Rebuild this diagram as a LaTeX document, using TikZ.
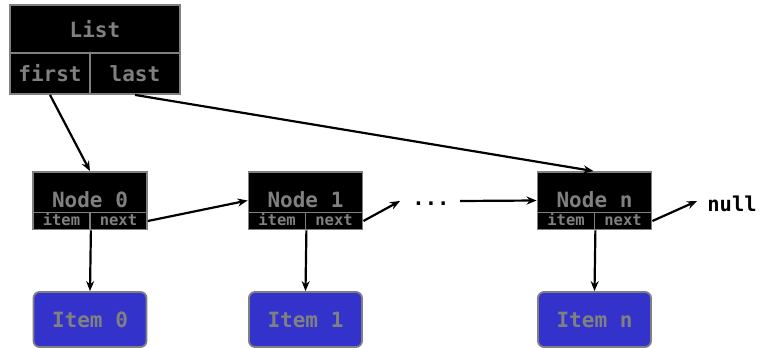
\documentclass[tikz,border=0pt]{standalone}
\usepackage{fontspec}
\newfontfamily\monof{DejaVu Sans Mono}
\usetikzlibrary{arrows.meta}
\definecolor{boxgray}{HTML}{808080}
\definecolor{itemblue}{HTML}{3333CC}
\tikzset{
  box/.style={draw=boxgray, line width=1.8pt, fill=black, text=boxgray, inner sep=0pt, font=\monof\bfseries},
  bigtxt/.style={font=\monof\bfseries\fontsize{21}{22}\selectfont},
  smalltxt/.style={font=\monof\bfseries\fontsize{15.5}{15}\selectfont},
  itembox/.style={draw=boxgray, line width=1.8pt, fill=itemblue, text=boxgray, rounded corners=6pt, inner sep=0pt, minimum width=113pt, minimum height=55pt, font=\monof\bfseries\fontsize{21}{22}\selectfont},
  arr/.style={line width=2.2pt, -{Stealth[length=10pt,width=8pt]}},
  plain/.style={font=\monof\bfseries\fontsize{20.5}{21}\selectfont, text=black, inner sep=0pt}
}
\begin{document}
\begin{tikzpicture}[x=1pt,y=-1pt]
\useasboundingbox (0,0) rectangle (764,348);
% List
\node[box, bigtxt, minimum width=170pt, minimum height=48pt] (listhead) at (95,29) {List};
\node[box, bigtxt, minimum width=80pt, minimum height=41pt] (first) at (50,73.5) {first};
\node[box, bigtxt, minimum width=90pt, minimum height=41pt] (last) at (135,73.5) {last};
% Node boxes
\foreach \n/\x/\lab in {n0/90/Node 0, n1/305.5/Node 1, nn/594.5/Node n}{
  \node[box, bigtxt, minimum width=114pt, minimum height=41pt, text height=35pt, text depth=6pt] (\n) at (\x,192.5) {\lab};
  \node[box, smalltxt, minimum width=57pt, minimum height=17pt, text height=13pt, text depth=4pt] (\n item) at (\x-28.5,221) {item};
  \node[box, smalltxt, minimum width=57pt, minimum height=17pt, text height=13pt, text depth=4pt] (\n next) at (\x+28.5,221) {next};
}
% Items
\node[itembox] (i0) at (90,319.5) {Item 0};
\node[itembox] (i1) at (305.5,319.5) {Item 1};
\node[itembox] (in) at (594.5,319.5) {Item n};
% dots and null
\node[plain] (dots) at (431,204) {...};
\node[plain] (null) at (732,204) {null};
\coordinate (dotsin) at (400,201);
\coordinate (dotsout) at (460,201);
\coordinate (nullin) at (697,201);
% connectors
\draw[arr] (first.south) -- (n0.north);
\draw[arr] (last.south) -- ([xshift=-1pt]nn.north);
\draw[arr] (n0next.east) -- ([yshift=-8pt]n1.west);
\draw[arr] (n1next.east) -- (dotsin);
\draw[arr] (dotsout) -- ([yshift=-8pt]nn.west);
\draw[arr] (nnnext.east) -- (nullin);
\draw[arr] (n0item.south east) -- (i0.north);
\draw[arr] (n1item.south east) -- (i1.north);
\draw[arr] (nnitem.south east) -- (in.north);
\end{tikzpicture}
\end{document}
